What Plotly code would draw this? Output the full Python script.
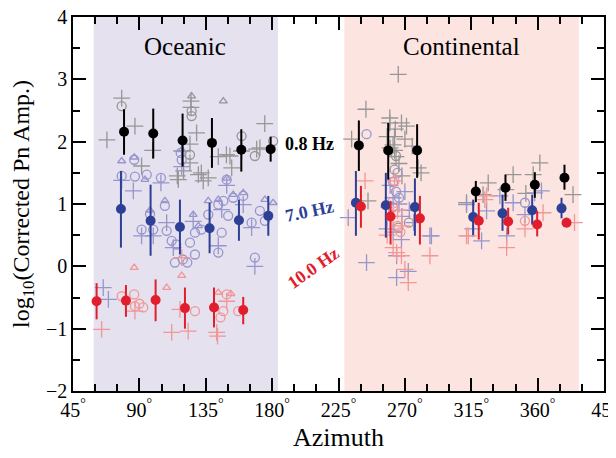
import plotly.graph_objects as go

# ---------------- data ----------------
# mean values with error bars (azimuth in degrees, log10 amplitude)
az_08 = [79.6, 99.4, 119.3, 139.2, 159.1, 179.0, 238.8, 258.7, 278.3, 318.1, 338.2, 358.1, 378.2]
val_08 = [2.16, 2.13, 2.02, 1.98, 1.87, 1.88, 1.94, 1.86, 1.86, 1.20, 1.26, 1.31, 1.42]
hi_08 = [2.52, 2.53, 2.45, 2.38, 2.20, 2.08, 2.34, 2.30, 2.28, 1.37, 1.47, 1.51, 1.63]
lo_08 = [1.79, 1.73, 1.60, 1.58, 1.52, 1.68, 1.53, 1.39, 1.42, 1.03, 1.05, 1.10, 1.23]

az_70 = [77.5, 97.6, 117.5, 137.6, 157.5, 177.4, 236.8, 257.1, 276.8, 316.3, 336.2, 356.3, 376.2]
val_70 = [0.92, 0.73, 0.63, 0.61, 0.74, 0.81, 1.02, 0.98, 0.95, 0.79, 0.85, 0.90, 0.93]
hi_70 = [1.53, 1.31, 1.07, 1.02, 1.07, 1.13, 1.53, 1.50, 1.41, 1.07, 1.15, 1.15, 1.10]
lo_70 = [0.30, 0.17, 0.19, 0.21, 0.41, 0.49, 0.49, 0.46, 0.49, 0.50, 0.57, 0.67, 0.77]

az_100 = [61.0, 80.9, 101.0, 120.9, 140.6, 160.4, 240.2, 260.3, 280.2, 320.1, 340.0, 359.7, 379.6]
val_100 = [-0.56, -0.55, -0.54, -0.67, -0.66, -0.70, 0.96, 0.80, 0.77, 0.73, 0.72, 0.67, 0.70]
hi_100 = [-0.27, -0.30, -0.21, -0.34, -0.34, -0.49, 1.29, 1.05, 1.13, 1.02, 0.94, 0.89, 0.78]
lo_100 = [-0.85, -0.81, -0.88, -1.00, -0.98, -0.93, 0.62, 0.35, 0.35, 0.43, 0.51, 0.48, 0.65]

# individual measurements, 0.8 Hz
plus08_az = [78, 87, 68, 99, 91.5, 125, 128.8, 118.7, 124.3, 124.3, 132, 136.7, 115.7, 120, 130,
             151.4, 152.6, 149, 159.3, 175, 169.5, 171.7, 143.5, 125, 116.4, 133.3,
             265.5, 243.6, 233.9, 259.8, 259.8, 267.7, 271.1, 263.5, 270, 263, 262, 263, 264, 275,
             279, 281, 245, 311.8, 323, 326.5, 343.4, 338.5, 357, 361.5, 384, 352, 258, 266, 268, 260]
plus08_val = [2.70, 2.25, 2.03, 1.86, 1.61, 2.65, 2.14, 1.85, 1.96, 1.66, 1.50, 1.42, 1.45, 1.53, 1.47,
              1.77, 1.58, 1.79, 1.85, 2.29, 1.88, 1.90, 1.76, 2.55, 1.39, 1.37,
              3.08, 2.52, 2.04, 2.38, 2.30, 2.30, 2.25, 2.20, 2.04, 2.08, 1.95, 1.86, 1.76, 1.93,
              1.58, 1.50, 1.05, 1.02, 1.15, 1.34, 1.47, 1.23, 1.47, 1.66, 1.15, 1.17, 2.08, 1.65, 1.45, 1.90]
circ08_az = [78, 125.4, 125.4, 124.3, 159.3, 168.3, 180.7, 264, 272.7, 265.5, 263]
circ08_val = [2.57, 2.49, 2.41, 1.79, 2.09, 1.77, 2.01, 1.77, 0.70, 0.62, 1.55]
tri08_az = [125.4, 146.9]
tri08_val = [2.73, 2.65]

# individual measurements, 7.0 Hz
plus70_az = [78, 104.6, 85.9, 91.5, 108.5, 126.5, 145.8, 160.4, 166.1, 168.3, 143.5, 65.5, 69,
             118.7, 149.2, 99.4, 113,
             231.6, 244, 264.4, 272.3, 264.4, 267.7, 287, 311.8, 325.4, 322, 339, 351.4, 362.6, 288,
             334.4, 343.4, 260, 262, 266, 270, 268, 273, 276, 258, 262, 316, 358]
plus70_val = [1.38, 1.34, 1.21, 0.49, 0.70, 0.72, 0.91, 0.99, 0.62, 0.00, 0.33, -0.34, -0.53,
              1.60, 1.30, 0.49, 0.30,
              0.78, 0.06, -0.18, -0.08, 0.17, 0.43, 0.49, 0.99, 0.89, 0.41, 0.49, 0.83, 1.21, 0.49,
              1.13, 1.02, 1.30, 1.10, 1.00, 1.20, 0.80, 0.90, 0.70, 0.60, 0.55, 0.60, 1.18]
circ70_az = [86.5, 78, 87, 95, 104.6, 118.7, 149.2, 97.2, 107.3, 91.5, 99.4, 108.5, 111.9, 115,
             114.1, 119.5, 122.5, 127.7, 124.3, 127.7, 132, 136.7, 143.5, 146.9, 145.8, 143.5,
             150.2, 153.6, 160.4, 166.1, 171.7, 175.1, 168.3, 118,
             244, 262, 264, 262, 266, 351.4, 265]
circ70_val = [1.71, 1.45, 1.44, 1.47, 1.42, 1.71, 1.39, 0.84, 0.97, 0.59, 0.59, 0.57, 0.41, 0.35,
              0.06, 0.11, 0.06, 0.19, 0.38, 0.54, 0.59, 0.83, 0.99, 1.05, 0.54, 0.22,
              0.81, 1.10, 1.13, 0.70, 0.89, 0.73, 0.14, 1.82,
              2.12, 1.35, 1.20, 0.95, 1.10, 1.02, 1.50]
tri70_az = [78, 86.5, 93.8, 118.7, 149.2, 97.2, 107.3, 126.5, 136.7, 143.5, 153.6, 160.4, 180.7, 175.1, 130]
tri70_val = [1.69, 1.75, 1.39, 1.87, 1.41, 0.90, 1.05, 0.83, 1.05, 1.07, 1.15, 1.18, 1.02, 1.07, 0.65]

# individual measurements, 10.0 Hz
plus100_az = [64.4, 87, 117.5, 111.9, 123.1, 142.4, 143, 149.2, 118.7,
              243, 263, 262, 265, 258, 262, 264.4, 267.7, 272.3, 287, 313, 324.2, 339, 351.4,
              363.7, 385, 325.4, 311.8, 268, 259, 270]
plus100_val = [-1.01, -0.72, -0.69, -1.06, -1.04, -1.06, -1.12, -0.56, 0.14,
               1.37, 1.37, 0.80, 0.90, 0.50, 0.30, 0.22, 0.17, -0.26, 0.17, 0.49, 1.07, 0.30, 0.60,
               0.86, 0.70, 1.13, 0.49, 0.65, 0.95, -0.05]
circ100_az = [78, 86.5, 87, 92.6, 127.7, 149.2, 146.9, 145, 157, 90, 263, 265, 267, 351.4]
circ100_val = [-0.48, -0.45, -0.64, -0.66, -0.72, -0.45, -0.72, -0.82, -0.72, -0.60, 1.37, 0.65, 0.55, 0.73]
tri100_az = [108.5, 143.5, 152, 118.7, 86.5]
tri100_val = [-0.34, -0.42, -0.44, -0.15, -0.02]

x_tickvals = [45, 90, 135, 180, 225, 270, 315, 360, 405]
x_ticklabels = ["45", "90", "135", "180", "225", "270", "315", "360", "45"]
y_tickvals = [-2, -1, 0, 1, 2, 3, 4]

oceanic_span = [59, 184]
continental_span = [229, 388]

# ---------------- styling ----------------
GRAY = "rgb(150,150,150)"
LBLUE = "rgb(150,150,205)"
LRED = "rgb(242,150,150)"
BLUE = "rgb(46,64,150)"
RED = "rgb(225,30,45)"
FONT = "Times New Roman, Liberation Serif, Times, serif"

fig = go.Figure()


def add_pts(xs, ys, color, symbol, size):
    fig.add_trace(go.Scatter(
        x=xs, y=ys, mode="markers", showlegend=False, hoverinfo="skip",
        marker=dict(symbol=symbol, size=size, color=color,
                    line=dict(color=color, width=1.3))))


add_pts(plus08_az, plus08_val, GRAY, "cross-thin-open", 12)
add_pts(circ08_az, circ08_val, GRAY, "circle-open", 9)
add_pts(tri08_az, tri08_val, GRAY, "triangle-up-open", 7)
add_pts(plus70_az, plus70_val, LBLUE, "cross-thin-open", 12)
add_pts(circ70_az, circ70_val, LBLUE, "circle-open", 9)
add_pts(tri70_az, tri70_val, LBLUE, "triangle-up-open", 7)
add_pts(plus100_az, plus100_val, LRED, "cross-thin-open", 12)
add_pts(circ100_az, circ100_val, LRED, "circle-open", 9)
add_pts(tri100_az, tri100_val, LRED, "triangle-up-open", 7)


def add_means(xs, ys, hi, lo, color):
    fig.add_trace(go.Scatter(
        x=xs, y=ys, mode="markers", showlegend=False,
        marker=dict(symbol="circle", size=10, color=color),
        error_y=dict(type="data", symmetric=False,
                     array=[h - v for h, v in zip(hi, ys)],
                     arrayminus=[v - l for v, l in zip(ys, lo)],
                     color=color, thickness=2, width=0)))


add_means(az_08, val_08, hi_08, lo_08, "black")
add_means(az_70, val_70, hi_70, lo_70, BLUE)
add_means(az_100, val_100, hi_100, lo_100, RED)

fig.add_shape(type="rect", xref="x", yref="paper", x0=oceanic_span[0], x1=oceanic_span[1],
              y0=0, y1=1, fillcolor="rgb(229,225,238)", line=dict(width=0), layer="below")
fig.add_shape(type="rect", xref="x", yref="paper", x0=continental_span[0], x1=continental_span[1],
              y0=0, y1=1, fillcolor="rgb(252,228,225)", line=dict(width=0), layer="below")

fig.add_annotation(x=121, y=3.53, text="Oceanic", showarrow=False,
                   font=dict(family=FONT, size=25, color="black"))
fig.add_annotation(x=308.6, y=3.53, text="Continental", showarrow=False,
                   font=dict(family=FONT, size=25, color="black"))
fig.add_annotation(x=205.6, y=1.97, text="<b>0.8 Hz</b>", showarrow=False,
                   font=dict(family=FONT, size=18, color="black"))
fig.add_annotation(x=205.6, y=0.88, text="<b>7.0 Hz</b>", showarrow=False, textangle=-12,
                   font=dict(family=FONT, size=18, color=BLUE))
fig.add_annotation(x=207.6, y=-0.02, text="<b>10.0 Hz</b>", showarrow=False, textangle=-35,
                   font=dict(family=FONT, size=18, color=RED))

# the page body adds an 8px margin, so the figure is sized/offset to compensate
fig.update_layout(
    width=608, height=450,
    margin=dict(l=65, r=12, t=9, b=67, autoexpand=False),
    paper_bgcolor="white", plot_bgcolor="white",
    font=dict(family=FONT, size=20, color="black"),
    xaxis=dict(range=[45, 405], tickvals=x_tickvals, automargin=False,
               ticktext=[t + "<sup>°</sup>" for t in x_ticklabels],
               ticklabeloverflow="allow",
               ticks="inside", ticklen=13, tickwidth=1.5, tickcolor="black",
               minor=dict(dtick=15, ticks="inside", ticklen=7, tickwidth=1.5, tickcolor="black"),
               showline=True, linecolor="black", linewidth=1.5, mirror="ticks",
               showgrid=False, zeroline=False,
               title=dict(text="Azimuth", font=dict(size=26), standoff=8)),
    yaxis=dict(range=[-2, 4], tickvals=y_tickvals, automargin=False,
               ticklabeloverflow="allow",
               ticks="inside", ticklen=13, tickwidth=1.5, tickcolor="black",
               minor=dict(dtick=0.5, ticks="inside", ticklen=7, tickwidth=1.5, tickcolor="black"),
               showline=True, linecolor="black", linewidth=1.5, mirror="ticks",
               showgrid=False, zeroline=False,
               title=dict(text="log<sub>10</sub>(Corrected Pn Amp.)", font=dict(size=24), standoff=10)),
)

fig.write_html("out.html")
